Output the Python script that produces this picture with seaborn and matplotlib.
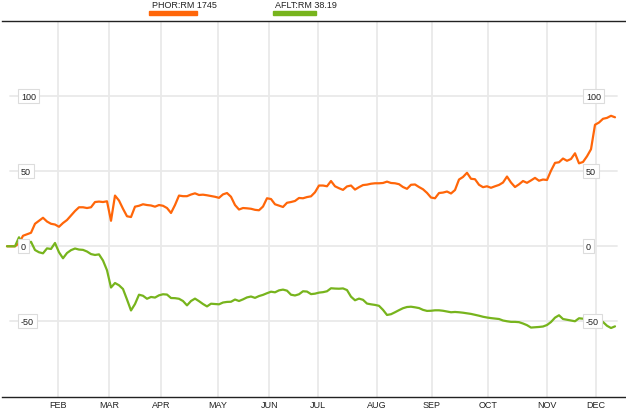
import matplotlib
matplotlib.use("Agg")
import matplotlib.pyplot as plt
import matplotlib.transforms as mtransforms
import matplotlib.patches as mpatches
import seaborn as sns
import numpy as np
import pandas as pd

# month labels and their position in trading-session units (4 px per session step)
months = ['FEB', 'MAR', 'APR', 'MAY', 'JUN', 'JUL', 'AUG', 'SEP', 'OCT', 'NOV', 'DEC']
month_pos = [12.8, 25.5, 38.6, 52.75, 65.6, 77.75, 92.5, 106.25, 120.3, 135.0, 147.3]

# % change since start of the year
phor = [0, 0, 0, 2, 7, 8, 9, 15, 17, 19, 16.5, 15, 14.5, 13, 15.5, 17.5, 20.5, 23.5, 26, 26,
        25.5, 26, 29.5, 29.8, 29.5, 30, 17, 33.8, 30.5, 25, 20, 19.5, 26.4, 27, 28, 27.5, 27.2, 26.4, 27.5, 27,
        25.5, 22.2, 27.5, 33.8, 33.4, 33.4, 34.5, 35.3, 34.2, 34.4, 34, 33.5, 33, 32.3, 34.6, 35.5, 33, 27.5, 24.5, 25.5,
        25.3, 25, 24.3, 24, 26.5, 32, 31.5, 28, 27.1, 26.2, 29, 29.5, 30.2, 32.2, 32, 32.8, 33.3, 36, 40.5, 40.5,
        40, 43.5, 40, 38.7, 37.6, 39.9, 40.5, 37.8, 39.4, 40.8, 41.1, 41.7, 42, 42, 42.2, 43.1, 42.2, 42, 41.4, 39.5,
        38.3, 41, 41.2, 39.5, 38, 35.6, 32.5, 32, 35.5, 35.8, 36.5, 35.2, 37.5, 44.5, 46.2, 49, 45, 44.7, 41, 39.4,
        40, 39, 40, 40.9, 42.5, 46.5, 42.5, 39.5, 41.3, 43.5, 42.3, 43.9, 45.6, 43.7, 44.5, 44.2, 50.4, 55.6, 56, 58.5,
        57, 58.2, 62, 55.3, 56.2, 60, 64.7, 81, 82.5, 85, 85.6, 87, 86]
aflt = [0, 0, 0, 6, 0.5, 1.5, 3, -2.5, -4, -4.7, -1.4, -1.8, 2.2, -4, -8, -4.5, -2.6, -1.5, -2.2, -2.4,
        -3.5, -5.2, -5.8, -5.4, -9.5, -16, -27.5, -24.5, -26, -28.5, -35.5, -42.8, -38.5, -32.3, -33, -35, -33.8, -34.2, -32.7, -32,
        -32.2, -34.5, -34.6, -35, -36.5, -39.4, -36.5, -34.9, -36.6, -38.5, -40.1, -38.3, -38.5, -38.7, -37.5, -37.1, -37, -35.5, -36.5, -35.4,
        -34.1, -33.5, -34.4, -33.2, -32.4, -31.3, -30.3, -30.7, -29.4, -28.9, -29.6, -32.3, -32.8, -32, -30, -30.2, -31.9, -31.6, -30.9, -30.6,
        -30, -28, -28.2, -28.3, -28.1, -29.2, -33.6, -36, -34.9, -35.7, -38.2, -38.7, -39.1, -39.7, -42.4, -45.8, -45.3, -44, -42.6, -41.3,
        -40.5, -40.3, -40.7, -41.2, -42.4, -43.1, -43, -42.7, -42.7, -43, -43.5, -44, -43.8, -44, -44.3, -44.7, -45.1, -45.7, -46.3, -47,
        -47.5, -47.9, -48.2, -48.5, -49.5, -50, -50.4, -50.4, -50.6, -51.5, -52.6, -54.2, -54, -53.8, -53.5, -52.5, -50.5, -47.6, -46, -48.5,
        -49, -49.5, -50, -48, -48.3, -47.5, -48.5, -49, -49, -50.5, -53, -54.5, -53.4]
y_ticks = [-50, 0, 50, 100]
tickers = ['PHOR:RM', 'AFLT:RM']
last_prices = ['1745', '38.19']
colors = {'PHOR:RM': '#ff6609', 'AFLT:RM': '#77b41d'}

n = len(phor)
df = pd.DataFrame({
    'session': np.tile(np.arange(n), 2),
    'value': phor + aflt,
    'ticker': [tickers[0]] * n + [tickers[1]] * n,
})

sns.set_theme(style="white")
plt.rcParams['font.family'] = ['Liberation Sans', 'DejaVu Sans']

W, H = 626, 414
fig = plt.figure(figsize=(W / 100, H / 100), dpi=100)
ax = fig.add_axes([2 / W, 16.3 / H, 624 / W, 375.7 / H])

grid_c = '#e9e9e9'
for p in month_pos:
    ax.axvline(p, color=grid_c, lw=1.3, zorder=1)
for v in y_ticks:
    ax.axhline(v, xmin=0.0128, xmax=0.9856, color=grid_c, lw=1.3, zorder=1)

sns.lineplot(data=df, x='session', y='value', hue='ticker', palette=colors,
             linewidth=1.6, legend=False, ax=ax, zorder=3)

ax.set_xlim(-1.25, 154.75)
ax.set_ylim(-100.3, 150.2)
ax.set_xlabel('')
ax.set_ylabel('')
ax.set_yticks([])
ax.set_xticks(month_pos)
ax.set_xticklabels(months, fontsize=6.5, color='#222222')
ax.tick_params(axis='x', length=0, pad=2.5)
ax.grid(False)

for side in ['left', 'right']:
    ax.spines[side].set_visible(False)
for side in ['top', 'bottom']:
    ax.spines[side].set_color('#222222')
    ax.spines[side].set_linewidth(1.0)

# value labels sitting on the gridlines, both sides
trans = mtransforms.blended_transform_factory(fig.transFigure, ax.transData)
for v in y_ticks:
    for xf in (21 / W, 586 / W):
        ax.text(xf, v, str(v), transform=trans, ha='left', va='center',
                fontsize=6.5, color='#222222', zorder=5, clip_on=False,
                bbox=dict(boxstyle='square,pad=0.3', fc='white', ec='#dcdcdc', lw=0.8))

# legend on top: name + last price, colour bar underneath
leg_x = [(152, 149, 48), (275, 273, 43)]
for (tx, bx, bw), t, price in zip(leg_x, tickers, last_prices):
    fig.text(tx / W, 1 - 6 / H, f'{t} {price}', ha='left', va='center',
             fontsize=6.5, color='#222222')
    fig.patches.append(mpatches.Rectangle((bx / W, 1 - 15.7 / H), bw / W, 3.7 / H,
                                          transform=fig.transFigure, color=colors[t]))

fig.savefig('out.png', dpi=100)
